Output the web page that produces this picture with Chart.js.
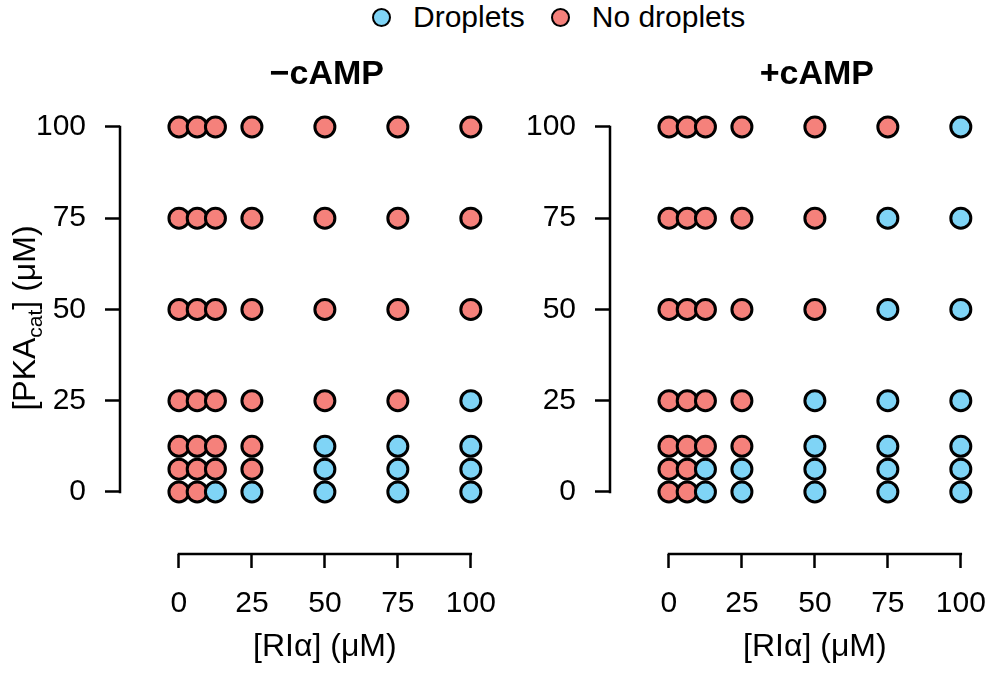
<!DOCTYPE html>
<html>
<head>
<meta charset="utf-8">
<script src="https://cdn.jsdelivr.net/npm/chart.js@4.4.0/dist/chart.umd.min.js"></script>
<style>
  html, body { margin: 0; padding: 0; background: #fff; }
  body { width: 997px; height: 675px; position: relative; overflow: hidden;
         font-family: "Liberation Sans", Arial, Helvetica, sans-serif; }
  .cw { position: absolute; top: 0; width: 500px; height: 675px; }
  #legend { position: absolute; top: 0px; left: 372px; display: flex; align-items: center;
            font-size: 30px; color: #000; white-space: nowrap; height: 34px; }
  #legend .dot { width: 15px; height: 15px; border: 2.5px solid #000; border-radius: 50%; margin-right: 22px; }
  #legend .lab { margin-right: 26px; }
</style>
</head>
<body>
<div id="legend"></div>
<div class="cw" style="left:0px"><canvas id="c1"></canvas></div>
<div class="cw" style="left:490px"><canvas id="c2"></canvas></div>
<script>
// ---- data ----
const xValues = [0, 6.25, 12.5, 25, 50, 75, 100];      // [RIα] (µM)
const yValues = [0, 6.25, 12.5, 25, 50, 75, 100];      // [PKAcat] (µM)
const tickValues = [0, 25, 50, 75, 100];
const seriesNames = ['Droplets', 'No droplets'];
const seriesColors = ['#7FD4F6', '#F5817B'];
const panelTitles = ['\u2212cAMP', '+cAMP'];
const xAxisTitle = '[RI\u03B1] (\u03BCM)';
// rows follow yValues (bottom to top), columns follow xValues; 1 = droplets, 0 = no droplets
const minusCAMP = [
  [0,0,1,1,1,1,1],
  [0,0,0,0,1,1,1],
  [0,0,0,0,1,1,1],
  [0,0,0,0,0,0,1],
  [0,0,0,0,0,0,0],
  [0,0,0,0,0,0,0],
  [0,0,0,0,0,0,0]
];
const plusCAMP = [
  [0,0,1,1,1,1,1],
  [0,0,1,1,1,1,1],
  [0,0,0,0,1,1,1],
  [0,0,0,0,1,1,1],
  [0,0,0,0,0,1,1],
  [0,0,0,0,0,1,1],
  [0,0,0,0,0,0,1]
];

const FONT = '"Liberation Sans", Arial, Helvetica, sans-serif';

// legend (HTML)
const lg = document.getElementById('legend');
seriesNames.forEach((n, i) => {
  const d = document.createElement('span'); d.className = 'dot'; d.style.background = seriesColors[i];
  const t = document.createElement('span'); t.className = 'lab'; t.textContent = n;
  lg.appendChild(d); lg.appendChild(t);
});

function buildDatasets(grid) {
  const sets = seriesNames.map((n, i) => ({
    label: n, data: [], backgroundColor: seriesColors[i], borderColor: '#000',
    borderWidth: 3, pointRadius: 10, pointHoverRadius: 10, showLine: false, clip: false
  }));
  yValues.forEach((yv, r) => {
    xValues.forEach((xv, c) => {
      const k = grid[r][c] === 1 ? 0 : 1;
      sets[k].data.push({ x: xv, y: yv });
    });
  });
  return sets;
}

const rAxes = {
  id: 'rAxes',
  beforeDatasetsDraw(chart, args, opts) {
    const { ctx, chartArea, scales: { x, y } } = chart;
    ctx.save();
    ctx.strokeStyle = '#000'; ctx.lineWidth = 2.5; ctx.lineCap = 'square';
    ctx.beginPath();
    ctx.moveTo(chartArea.left, y.getPixelForValue(0));
    ctx.lineTo(chartArea.left, y.getPixelForValue(100));
    ctx.moveTo(x.getPixelForValue(0), chartArea.bottom);
    ctx.lineTo(x.getPixelForValue(100), chartArea.bottom);
    ctx.stroke();
    // panel title
    ctx.fillStyle = '#000';
    ctx.textAlign = 'center'; ctx.textBaseline = 'middle';
    ctx.font = 'bold 34px ' + FONT;
    ctx.fillText(opts.title, x.getPixelForValue(50) + 2, 75);
    // x axis title
    ctx.font = '32px ' + FONT;
    ctx.fillText(xAxisTitle, x.getPixelForValue(50), 647);
    // y axis title with subscript
    if (opts.yTitle) {
      const parts = [['[PKA', 32, 0], ['cat', 21, 7], ['] (\u03BCM)', 32, 0]];
      let total = 0;
      parts.forEach(p => { ctx.font = p[1] + 'px ' + FONT; p.push(ctx.measureText(p[0]).width); total += p[3]; });
      ctx.translate(35, 318);
      ctx.rotate(-Math.PI / 2);
      ctx.textAlign = 'left'; ctx.textBaseline = 'alphabetic';
      let cx = -total / 2;
      parts.forEach(p => { ctx.font = p[1] + 'px ' + FONT; ctx.fillText(p[0], cx, p[2]); cx += p[3]; });
    }
    ctx.restore();
  }
};

function makeChart(id, grid, title, yTitle) {
  return new Chart(document.getElementById(id), {
    type: 'scatter',
    data: { datasets: buildDatasets(grid) },
    options: {
      responsive: true, maintainAspectRatio: false, animation: false,
      layout: { autoPadding: false, padding: { top: 101.4, left: 0, right: 0, bottom: 0 } },
      plugins: { legend: { display: false }, tooltip: { enabled: false }, rAxes: { title, yTitle } },
      scales: {
        x: {
          type: 'linear', min: -20.2, max: 110,
          afterBuildTicks: s => { s.ticks = tickValues.map(v => ({ value: v })); },
          afterFit: s => { s.height = 121; s.paddingLeft = 0; s.paddingRight = 0; },
          grid: { display: true, drawOnChartArea: false, drawTicks: true, tickLength: 14, tickColor: '#000', tickWidth: 2.5 },
          border: { display: false },
          ticks: { color: '#000', font: { size: 30, family: FONT }, padding: 18, maxRotation: 0, autoSkip: false }
        },
        y: {
          type: 'linear', min: -17, max: 107,
          afterBuildTicks: s => { s.ticks = tickValues.map(v => ({ value: v })); },
          afterFit: s => { s.width = 120; s.paddingTop = 0; s.paddingBottom = 0; },
          grid: { display: true, drawOnChartArea: false, drawTicks: true, tickLength: 15, tickColor: '#000', tickWidth: 2.5 },
          border: { display: false },
          ticks: { color: '#000', font: { size: 30, family: FONT }, padding: 19, autoSkip: false }
        }
      }
    },
    plugins: [rAxes]
  });
}

makeChart('c1', minusCAMP, panelTitles[0], true);
makeChart('c2', plusCAMP, panelTitles[1], false);
</script>
</body>
</html>
